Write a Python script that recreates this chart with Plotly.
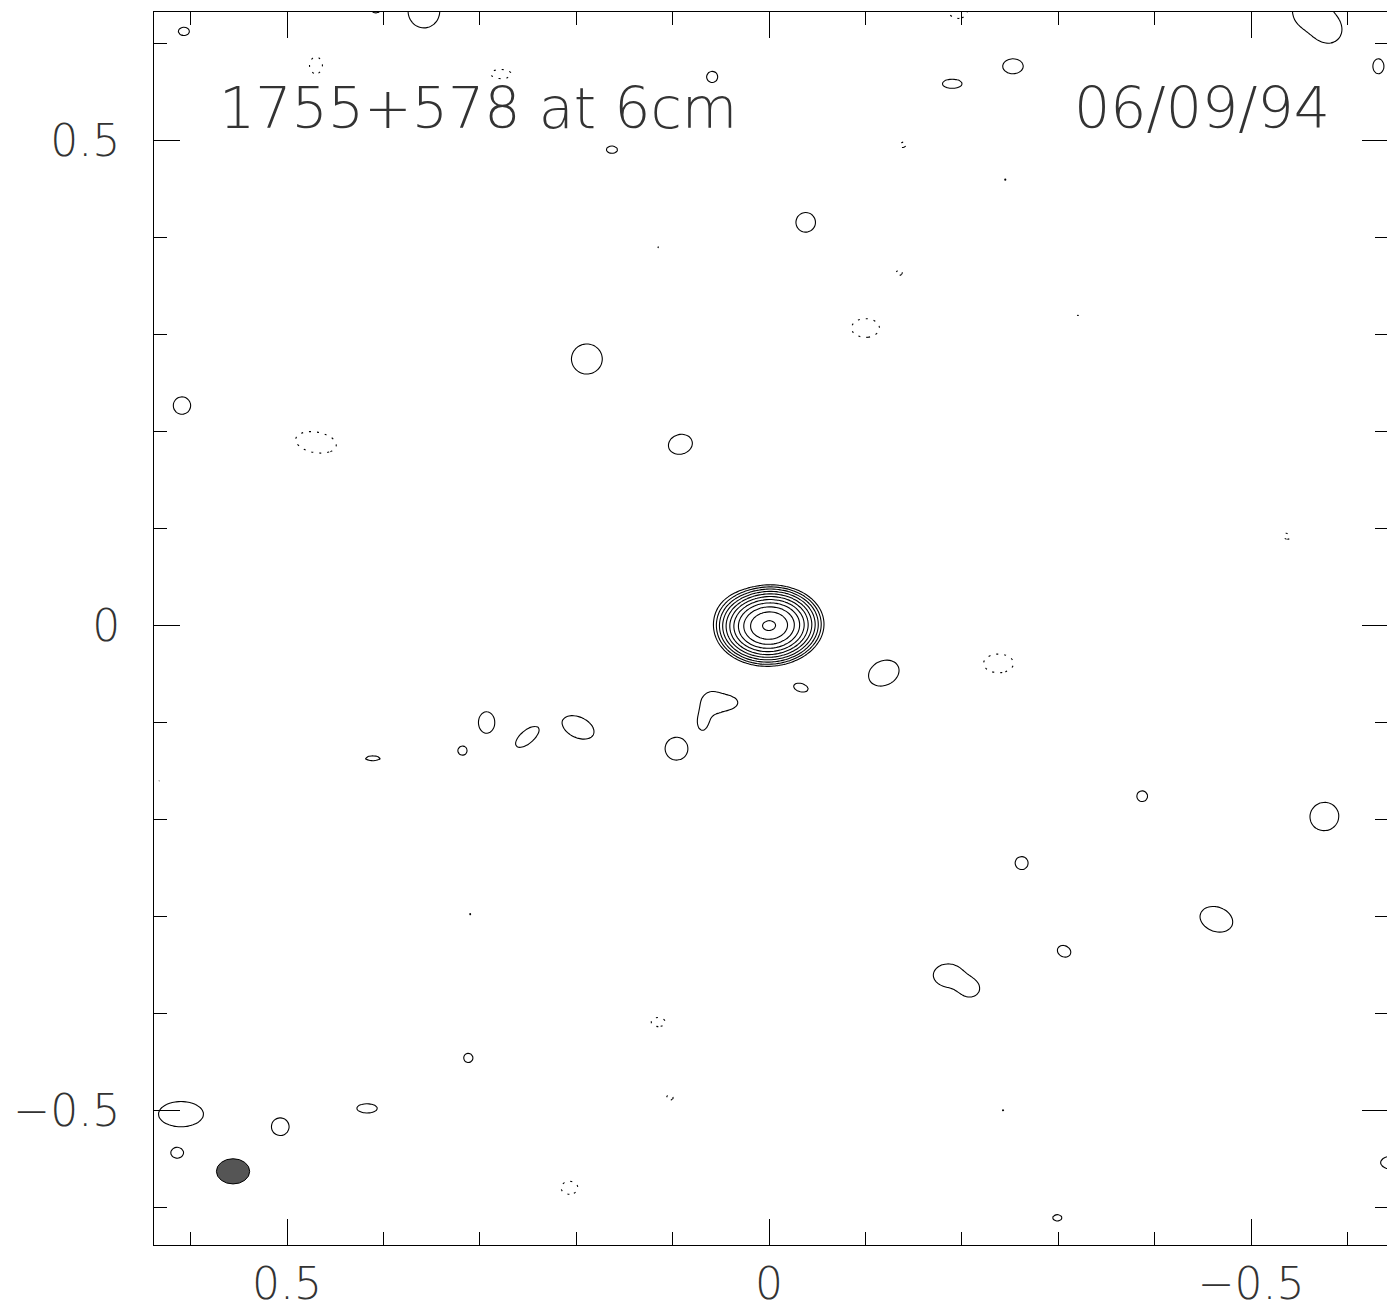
import numpy as np
import plotly.graph_objects as go

# ---------------- data: clean-map components (offsets in arcsec-like map units) -------------
# positive (solid contour) components: x, y, peak, sigma along/perp, screen angle (deg)
pos_x = [0.0, 0.030, 0.607, 0.358, 0.408, 0.059, 0.163, -0.038, 0.189, 0.609, 0.092,
         -0.190, -0.253, -0.561, -0.582, -0.632, -0.119, -0.033,
         0.059, 0.040, 0.069, 0.096, 0.198, 0.251, 0.293, 0.318, 0.411,
         -0.387, -0.576, -0.262, -0.464, -0.306, -0.1857, -0.2095,
         0.312, 0.417, 0.610, 0.507, 0.614, -0.299, -0.646,
         0.633, 0.531, 0.310, -0.243, -0.321, -0.245, 0.115]
pos_y = [0.0, 0.012, 0.613, 0.634, 0.640, 0.566, 0.491, 0.416, 0.275, 0.227, 0.187,
         0.559, 0.577, 0.634, 0.613, 0.577, -0.049, -0.064,
         -0.0795, -0.0795, -0.101, -0.127, -0.105, -0.115, -0.100, -0.129, -0.137,
         -0.176, -0.197, -0.245, -0.303, -0.336, -0.3607, -0.3752,
         -0.446, -0.498, -0.504, -0.517, -0.544, -0.611, -0.554,
         -0.159, -0.226, -0.298, -0.500, 0.320, 0.460, 0.391]
pos_amp = [1136, 2.0, 1.6, 1.6, 1.6, 1.6, 1.6, 1.6, 1.6, 1.6, 1.6,
           1.6, 1.6, 1.5, 1.3, 1.6, 1.6, 1.6,
           1.5, 1.2, 1.2, 1.6, 1.6, 1.6, 1.6, 1.6, 1.6,
           1.6, 1.6, 1.6, 1.6, 1.6, 1.5, 1.3,
           1.6, 1.6, 1.6, 1.6, 1.6, 1.6, 1.6,
           1.08, 1.08, 1.08, 1.08, 1.08, 1.08, 1.08]
pos_sa = [0.0152, 0.014, 0.006, 0.017, 0.007, 0.006, 0.006, 0.0105, 0.0165, 0.0093, 0.013,
          0.0105, 0.011, 0.020, 0.012, 0.006, 0.017, 0.008,
          0.0125, 0.009, 0.006, 0.0122, 0.018, 0.015, 0.0088, 0.005, 0.008,
          0.0058, 0.0155, 0.007, 0.018, 0.0075, 0.017, 0.010,
          0.005, 0.011, 0.024, 0.0095, 0.0067, 0.005, 0.012,
          0.003, 0.003, 0.003, 0.003, 0.003, 0.003, 0.003]
pos_sb = [0.0112, 0.012, 0.0045, 0.018, 0.008, 0.006, 0.004, 0.0105, 0.016, 0.0093, 0.0105,
          0.005, 0.008, 0.020, 0.012, 0.008, 0.013, 0.0045,
          0.0125, 0.006, 0.009, 0.0122, 0.011, 0.007, 0.0115, 0.005, 0.0027,
          0.0058, 0.015, 0.007, 0.013, 0.006, 0.013, 0.009,
          0.005, 0.005, 0.0135, 0.0095, 0.0057, 0.0035, 0.007,
          0.003, 0.003, 0.003, 0.003, 0.003, 0.003, 0.003]
pos_ang = [3, 0, 0, 0, 0, 0, 0, 0, 0, 0, 15,
           0, 0, 0, 0, 0, 25, -15,
           0, 0, 0, 0, -25, 40, 0, 0, 0,
           0, 20, 0, -20, -25, 0, 0,
           0, 0, 0, 0, 0, 0, 0,
           0, 0, 0, 0, 0, 0, 0]

# negative (dotted contour) components
neg_x = [0.470, -0.100, -0.238, 0.115, 0.207, 0.470, 0.278, -0.139, -0.135, -0.537, 0.103, -0.196]
neg_y = [0.189, 0.307, -0.039, -0.409, -0.580, 0.578, 0.569, 0.496, 0.364, 0.092, -0.487, 0.634]
neg_amp = [1.6, 1.6, 1.6, 1.6, 1.6, 1.6, 1.6, 1.3, 1.3, 1.3, 1.3, 1.6]
neg_sa = [0.022, 0.015, 0.016, 0.0075, 0.009, 0.007, 0.011, 0.005, 0.005, 0.005, 0.005, 0.010]
neg_sb = [0.011, 0.010, 0.010, 0.005, 0.007, 0.009, 0.005, 0.004, 0.004, 0.004, 0.004, 0.008]
neg_ang = [-10, 0, 0, 0, 0, 0, 0, 30, 30, -40, 0, 0]

# restoring beam (lower-left corner)
beam_x = [0.556]
beam_y = [-0.563]
beam_major = [0.0345]
beam_minor = [0.026]

x_range = [0.638, -0.642]
y_range = [-0.639, 0.633]
title_left = "1755+578 at 6cm"
title_right = "06/09/94"

# ---------------- build the map on a grid ----------------
step = 0.0025
gx = np.arange(-0.66, 0.66 + step / 2, step)
gy = np.arange(-0.66, 0.66 + step / 2, step)
X, Y = np.meshgrid(gx, gy)


def field(xs, ys, amps, sas, sbs, angs):
    f = np.zeros_like(X)
    for x0, y0, a, sa, sb, ang in zip(xs, ys, amps, sas, sbs, angs):
        u = -(X - x0)          # screen-right direction (RA axis reversed)
        v = Y - y0
        t = np.deg2rad(ang)
        p = u * np.cos(t) + v * np.sin(t)
        q = -u * np.sin(t) + v * np.cos(t)
        f += a * np.exp(-(p ** 2 / (2 * sa ** 2) + q ** 2 / (2 * sb ** 2)))
    return f


fpos = field(pos_x, pos_y, pos_amp, pos_sa, pos_sb, pos_ang)
fneg = field(neg_x, neg_y, neg_amp, neg_sa, neg_sb, neg_ang)
# contour levels 1,2,4,...  ->  log2 levels 0,1,2,...
zpos = np.round(np.log2(np.maximum(fpos, 0.5)), 2)
zneg = np.round(np.log2(np.maximum(fneg, 0.5)), 2)

black = [[0, "black"], [1, "black"]]
fig = go.Figure()
fig.add_trace(go.Contour(
    x=np.round(gx, 4), y=np.round(gy, 4), z=zpos,
    contours=dict(start=0, end=10, size=1, coloring="lines"),
    colorscale=black, showscale=False, line=dict(width=1.1),
    hoverinfo="skip"))
fig.add_trace(go.Contour(
    x=np.round(gx, 4), y=np.round(gy, 4), z=zneg,
    contours=dict(start=0, end=0, size=1, coloring="lines"),
    colorscale=black, showscale=False, line=dict(width=1.1, dash="2px,6px"),
    hoverinfo="skip"))

for bx, by, bmaj, bmin in zip(beam_x, beam_y, beam_major, beam_minor):
    fig.add_shape(type="circle", xref="x", yref="y",
                  x0=bx + bmaj / 2, x1=bx - bmaj / 2,
                  y0=by - bmin / 2, y1=by + bmin / 2,
                  fillcolor="#555555", line=dict(color="black", width=1))

tick_font = dict(family="DejaVu Sans", size=44, color="#333333", weight=200)
axis_common = dict(
    showgrid=False, zeroline=False, showline=True, linecolor="black", linewidth=1,
    mirror="ticks", ticks="inside", ticklen=26, tickwidth=1, tickcolor="black",
    tickmode="linear", tick0=0, dtick=0.5, tickfont=tick_font, automargin=False,
    minor=dict(ticks="inside", ticklen=13, tickwidth=1, tickcolor="black", dtick=0.1, tick0=0),
)
fig.update_xaxes(range=x_range, ticklabelstandoff=0, **axis_common)
fig.update_yaxes(range=y_range, ticklabelstandoff=24, **axis_common)

title_font = dict(family="DejaVu Sans", size=57, color="#333333", weight=200)
fig.add_annotation(text=title_left, xref="paper", yref="paper", x=0.051, y=0.922,
                   xanchor="left", yanchor="middle", showarrow=False, font=title_font)
fig.add_annotation(text=title_right, xref="paper", yref="paper", x=0.955, y=0.922,
                   xanchor="right", yanchor="middle", showarrow=False, font=title_font)

# the page body adds an 8px margin, so the figure is 8px smaller than the window
fig.update_layout(
    width=1387, height=1306,
    margin=dict(l=146, r=7, t=4, b=69),
    paper_bgcolor="white", plot_bgcolor="white",
    showlegend=False,
)
fig.write_html("out.html")
